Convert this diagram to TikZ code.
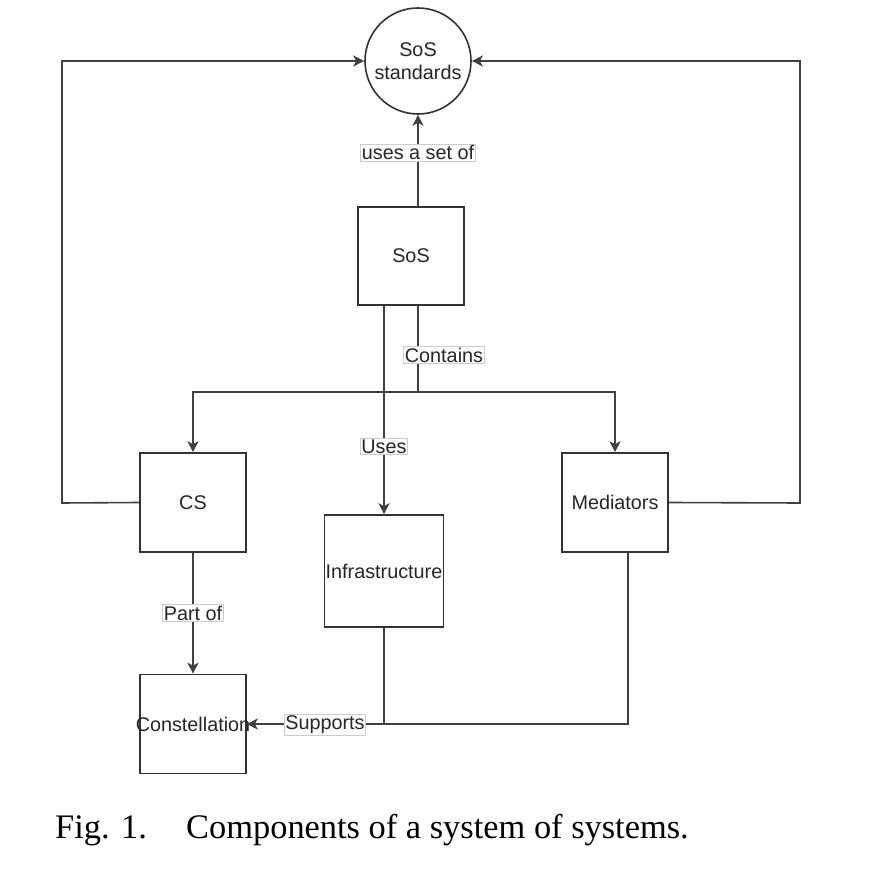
\documentclass[tikz,border=0pt]{standalone}
\usepackage{fontspec}
\setmainfont{Liberation Serif}
\setsansfont{Liberation Sans}
\usetikzlibrary{arrows.meta}
\begin{document}
\begin{tikzpicture}[x=1pt,y=-1pt,
  box/.style={draw=black!80, line width=1.6pt, fill=white, inner sep=0pt,
    font=\sffamily\fontsize{19.8}{23}\selectfont, text=black!85},
  txt/.style={inner sep=0pt, font=\sffamily\fontsize{19.8}{23}\selectfont, text=black!85},
  conn/.style={draw=black!75, line width=1.6pt},
  arr/.style={conn, -{Stealth[length=11pt,width=11pt,inset=3pt]}},
  lbl/.style={draw=black!20, line width=0.8pt, fill=white, inner sep=1.2pt,
    font=\sffamily\fontsize{19.8}{23}\selectfont, text=black!85},
  capt/.style={anchor=base west, inner sep=0pt, font=\rmfamily\fontsize{34.4}{40}\selectfont}]
\useasboundingbox (0,0) rectangle (887,874);
% nodes
\node[box, circle, minimum size=106pt, align=center] (std) at (418,61) {SoS\\standards};
\node[box, minimum width=106pt, minimum height=98pt] (sos) at (411,256) {SoS};
\node[box, minimum width=106pt, minimum height=99pt] (cs) at (193,502.5) {CS};
\node[box, minimum width=106pt, minimum height=99pt] (med) at (615,502.5) {Mediators};
\node[box, minimum width=119pt, minimum height=112pt] (inf) at (384,571) {};
\node[txt] (inft) at (inf) {Infrastructure};
\node[box, minimum width=106pt, minimum height=99pt] (con) at (193,724) {};
\node[txt] (cont) at (con) {Constellation};
% helper coordinates
\coordinate (jc) at (418,392);
\coordinate (lc) at (62,503);
\coordinate (rc) at (800,503);
\coordinate (sj) at (384,725);
% connectors
\draw[arr] (std.south |- sos.north) -- node[lbl, pos=0.585] (l1) {uses a set of} (std.south);
\draw[conn] (std.south |- sos.south) -- (jc);
\draw[arr] (jc) -| (cs.north);
\draw[arr] (jc) -| (med.north);
\node[lbl] (l2) at (444,355) {Contains};
\draw[arr] (inf.north |- sos.south) -- node[lbl, pos=0.676] (l3) {Uses} (inf.north);
\draw[arr] (cs.west) -- (lc) |- (std.west);
\draw[arr] (med.east) -- (rc) |- (std.east);
\draw[arr] (cs.south) -- node[lbl, pos=0.5] (l4) {Part of} (con.north);
\draw[conn] (inf.south) -- (sj);
\draw[arr] ([xshift=13pt]med.south) |- (con.east);
\node[lbl] (l5) at (325,725) {Supports};
% caption
\node[capt] (c1) at (55,838) {Fig. 1.};
\node[capt] (c2) at (186,838) {Components of a system of systems.};
\end{tikzpicture}
\end{document}
